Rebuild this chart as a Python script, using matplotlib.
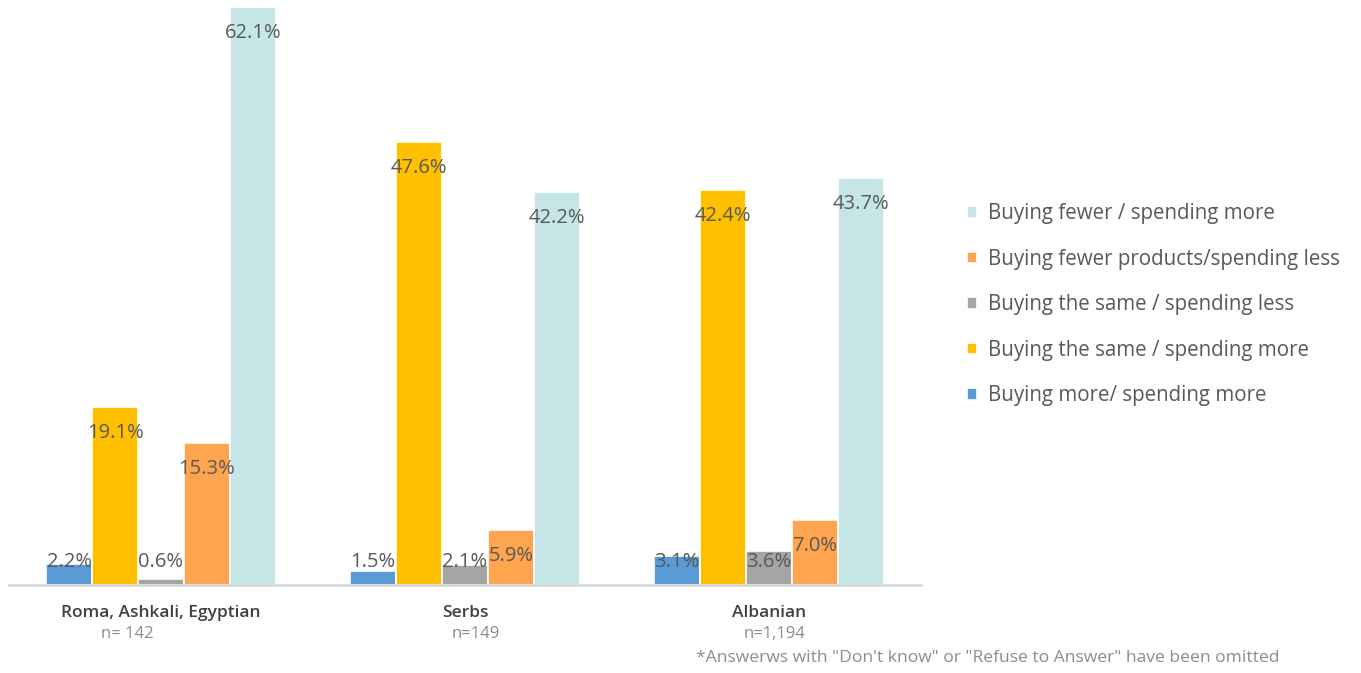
import numpy as np
import matplotlib.pyplot as plt

# Groups, sample sizes and the five answer series (percent)
groups = ["Roma, Ashkali, Egyptian", "Serbs", "Albanian"]
sample_sizes = ["n= 142", "n=149", "n=1,194"]
series = [
    "Buying more/ spending more",
    "Buying the same / spending more",
    "Buying the same / spending less",
    "Buying fewer products/spending less",
    "Buying fewer / spending more",
]
more_more = [2.2, 1.5, 3.1]
same_more = [19.1, 47.6, 42.4]
same_less = [0.6, 2.1, 3.6]
fewer_less = [15.3, 5.9, 7.0]
fewer_more = [62.1, 42.2, 43.7]
colors = ["#5B9BD5", "#FFC000", "#A5A5A5", "#FFA54F", "#C5E5E6"]

plt.rcParams["font.family"] = ["Open Sans", "DejaVu Sans"]

fig = plt.figure(figsize=(13.61, 6.73), dpi=100)
ax = fig.add_axes([0.0066, 0.1308, 0.67, 0.8588])

x = np.arange(len(groups))
width = 0.151
values = [more_more, same_more, same_less, fewer_less, fewer_more]
handles = []
for i, vals in enumerate(values):
    pos = x + (i - 2) * width
    bars = ax.bar(pos, vals, width, color=colors[i], edgecolor="white",
                  linewidth=1.2, label=series[i])
    handles.append(bars)
    for p, v in zip(pos, vals):
        ax.text(p, max(v - 2.8, 2.5), f"{v:.1f}%", ha="center", va="center",
                fontsize=14.5, color="#595959")

ax.set_xlim(-0.5, 2.5)
ax.set_ylim(0, 62.1)
for s in ["top", "right", "left"]:
    ax.spines[s].set_visible(False)
ax.spines["bottom"].set_color("#D9D9D9")
ax.spines["bottom"].set_linewidth(2)
ax.set_yticks([])
ax.set_xticks([])

# group names with sample sizes underneath
for xi, name in zip(x, groups):
    ax.text(xi, -3.0, name, ha="center", va="center", fontsize=12.5,
            color="#404040", fontweight="semibold")
n_offsets = [-0.11, 0.035, 0.02]
for xi, n, off in zip(x, sample_sizes, n_offsets):
    ax.text(xi + off, -5.3, n, ha="center", va="center", fontsize=12,
            color="#8C8C8C")

leg = fig.legend(handles[::-1], series[::-1], loc="center left",
                 bbox_to_anchor=(0.697, 0.547), frameon=False, fontsize=14.8,
                 handlelength=0.5, handleheight=0.5, handletextpad=0.5,
                 labelspacing=1.19, labelcolor="#595959")

fig.text(0.94, 1 - 658 / 673, '*Answerws with "Don\'t know" or "Refuse to Answer" have been omitted',
         ha="right", va="center", fontsize=12.6, color="#8C8C8C")

fig.savefig("out.png", dpi=100)
